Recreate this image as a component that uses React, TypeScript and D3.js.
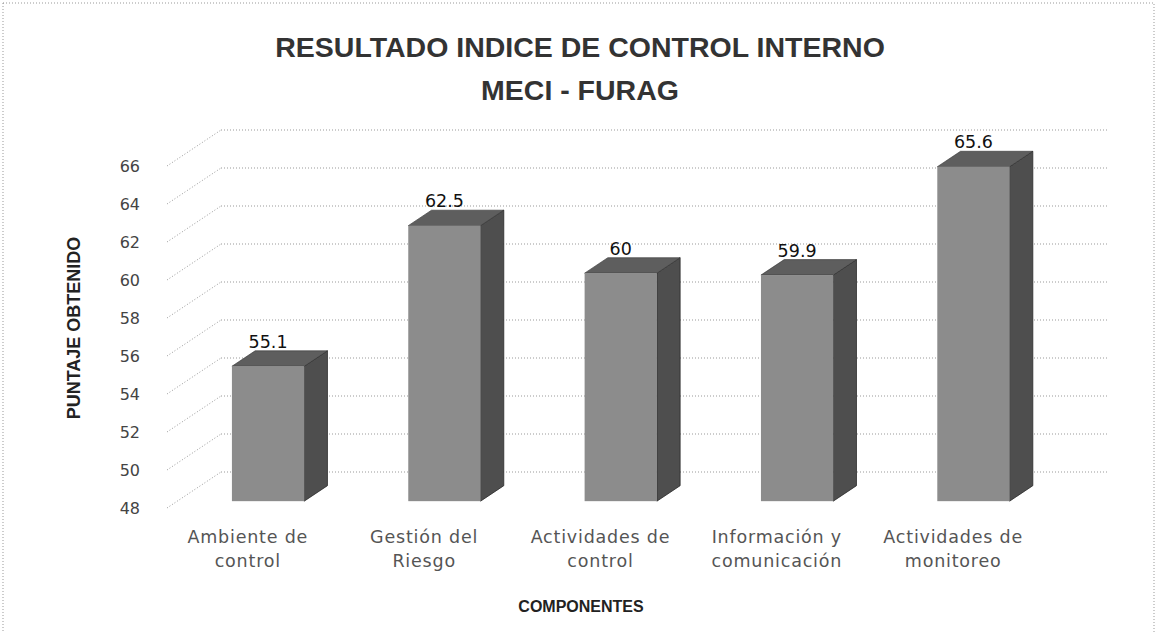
import * as d3 from "d3";
import React from "react";

const categories = ["Ambiente de control", "Gestión del Riesgo", "Actividades de control", "Información y comunicación", "Actividades de monitoreo"];
const categoryLines = [["Ambiente de", "control"], ["Gestión del", "Riesgo"], ["Actividades de", "control"], ["Información y", "comunicación"], ["Actividades de", "monitoreo"]];
const values = [55.1, 62.5, 60, 59.9, 65.6];
const valueLabels = ["55.1", "62.5", "60", "59.9", "65.6"];
const yTicks = [48, 50, 52, 54, 56, 58, 60, 62, 64, 66];

const W = 1157;
const H = 632;
// perspective offset from front plane to back wall
const depth = { dx: 54, dy: -36 };
const t0 = 0.19; // bar front face depth
const t1 = 0.62; // bar back face depth

const App: React.FC = () => {
  const x = d3.scaleBand<string>().domain(categories).range([167, 1054]).paddingInner(0.59).paddingOuter(0.31);
  const y = d3.scaleLinear().domain([48, 66]).range([508, 166]);
  const bw = x.bandwidth();
  const dt = t1 - t0;

  return (
    <svg width={W} height={H} style={{ position: "absolute", left: 0, top: 0, background: "#fff" }}>
      {/* chart border */}
      <rect x={3} y={3} width={1151} height={H + 10} fill="none" stroke="#999" strokeDasharray="1,2" />

      {/* title */}
      <g fontFamily="'Liberation Sans', Arial, sans-serif" fontWeight="bold" fill="#333" textAnchor="middle">
        <text x={580} y={57} fontSize={28.5}>RESULTADO INDICE DE CONTROL INTERNO</text>
        <text x={580} y={100} fontSize={28.5}>MECI - FURAG</text>
      </g>

      {/* back wall gridlines + side wall diagonals */}
      <g stroke="#999" strokeWidth={1} strokeDasharray="1,2" fill="none">
        {yTicks.map((t) => (
          <g key={t}>
            <line x1={167 + depth.dx} x2={1054 + depth.dx} y1={y(t) + depth.dy} y2={y(t) + depth.dy} />
            <line x1={167} y1={y(t)} x2={167 + depth.dx} y2={y(t) + depth.dy} />
          </g>
        ))}
      </g>

      {/* y tick labels */}
      <g fontFamily="'DejaVu Sans', sans-serif" fontSize={16} fill="#444" textAnchor="end">
        {yTicks.map((t) => (
          <text key={t} x={140} y={y(t)} dominantBaseline="central">{t}</text>
        ))}
      </g>

      {/* bars */}
      {categories.map((c, i) => {
        const xl = (x(c) as number) + t0 * depth.dx;
        const xr = xl + bw;
        const yt = y(values[i]) + t0 * depth.dy;
        const yb = y(48) + t0 * depth.dy;
        const ddx = dt * depth.dx;
        const ddy = dt * depth.dy;
        const side = [[xr, yt], [xr + ddx, yt + ddy], [xr + ddx, yb + ddy], [xr, yb]];
        const top = [[xl, yt], [xr, yt], [xr + ddx, yt + ddy], [xl + ddx, yt + ddy]];
        return (
          <g key={c}>
            <polygon points={side.map((p) => p.join(",")).join(" ")} fill="#4e4e4e" stroke="#2a2a2a" strokeWidth={0.8} />
            <polygon points={top.map((p) => p.join(",")).join(" ")} fill="#5e5e5e" stroke="#333" strokeWidth={0.6} />
            <rect x={xl} y={yt} width={bw} height={yb - yt} fill="#8c8c8c" />
            <text x={xl + bw / 2} y={yt + ddy - 3} textAnchor="middle" fontFamily="'DejaVu Sans', sans-serif" fontSize={17.5} fill="#111">
              {valueLabels[i]}
            </text>
          </g>
        );
      })}

      {/* category labels */}
      <g fontFamily="'DejaVu Sans', sans-serif" fontSize={17.5} letterSpacing={0.8} fill="#555" textAnchor="middle">
        {categories.map((c, i) => {
          const cx = (x(c) as number) + bw / 2 - 10;
          return (
            <text key={c} x={cx} y={543}>
              <tspan x={cx} dy={0}>{categoryLines[i][0]}</tspan>
              <tspan x={cx} dy={24}>{categoryLines[i][1]}</tspan>
            </text>
          );
        })}
      </g>

      {/* axis titles */}
      <text x={581} y={612} textAnchor="middle" fontFamily="'Liberation Sans', Arial, sans-serif" fontWeight="bold" fontSize={16} fill="#222">
        COMPONENTES
      </text>
      <text transform="translate(80,328) rotate(-90)" textAnchor="middle" fontFamily="'Liberation Sans', Arial, sans-serif" fontWeight="bold" fontSize={18} fill="#222">
        PUNTAJE OBTENIDO
      </text>
    </svg>
  );
};

export default App;
